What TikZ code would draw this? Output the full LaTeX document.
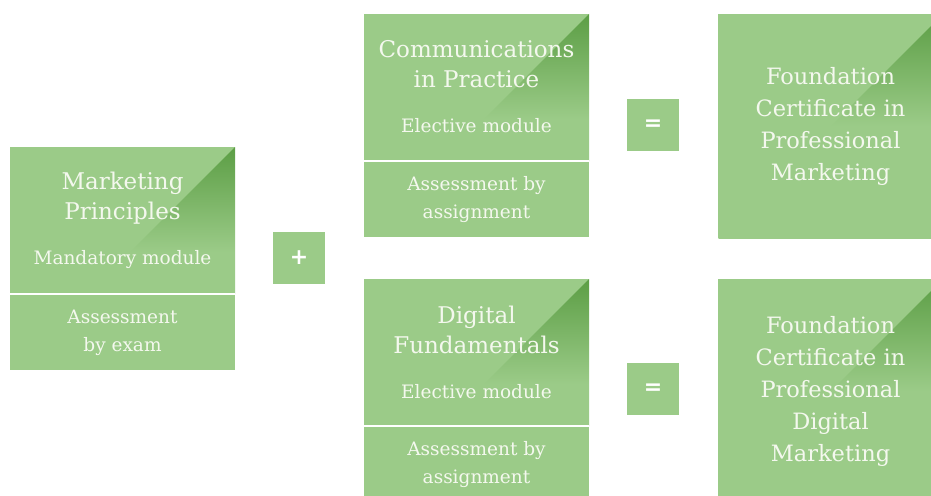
\documentclass[tikz,border=0pt]{standalone}
\usepackage{fontspec}
\setmainfont{DejaVu Serif}
\setsansfont{DejaVu Sans}
\usetikzlibrary{positioning}
\definecolor{leaf}{HTML}{9BCB88}
\definecolor{moss}{HTML}{5C9E45}
\definecolor{chalk}{HTML}{F4F8EE}
% fades from the top right corner, reaching the plain fill about 110px down
\pgfdeclareverticalshading{modfade}{100bp}{color(0bp)=(leaf); color(39bp)=(leaf); color(75bp)=(moss); color(100bp)=(moss)}
\pgfdeclareverticalshading{awardfade}{100bp}{color(0bp)=(leaf); color(50bp)=(leaf); color(75bp)=(moss); color(100bp)=(moss)}
\tikzset{
  tile/.style={fill=leaf,text=chalk,inner sep=0pt,align=center,minimum width=225pt},
  sheen/.style={path picture={
      \clip (path picture bounding box.north east) -- ++(-300pt,-300pt) -- ++(300pt,0pt) -- cycle;
      \shade[shading=#1] (path picture bounding box.south west) rectangle (path picture bounding box.north east);}},
  modhead/.style={tile,sheen=modfade,minimum height=146pt,font=\fontsize{23}{30}\selectfont},
  modfoot/.style={tile,minimum height=75pt,font=\fontsize{18.5}{28}\selectfont},
  award/.style={tile,sheen=awardfade,minimum height=224pt,font=\fontsize{22.5}{32}\selectfont},
  sign/.style={fill=leaf,text=white,minimum size=52pt,inner sep=0pt,font=\fontsize{22}{22}\sffamily\bfseries},
  sepline/.style={draw=white,line width=2pt}
}
\newcommand{\modtype}[1]{\\[15pt]{\fontsize{18.5}{24}\selectfont #1}}

\begin{document}
\begin{tikzpicture}[x=1pt,y=-1pt]
  \path[use as bounding box,clip] (0,0) rectangle (931,495);

  % mandatory module
  \node[modhead] (mp) at (122.5,220) {Marketing\\Principles\modtype{Mandatory module}};
  \node[modfoot, below=2pt of mp] (mpa) {Assessment\\by exam};

  \node[sign] (plus) at (299,258) {+};

  % elective modules
  \node[modhead] (cp) at (476.5,87) {Communications\\in Practice\modtype{Elective module}};
  \node[modfoot, below=2pt of cp] (cpa) {Assessment by\\assignment};

  \node[modhead] (df) at (476.5,352) {Digital\\Fundamentals\modtype{Elective module}};
  \node[modfoot, below=2pt of df] (dfa) {Assessment by\\assignment};

  \foreach \m in {mp,cp,df}
    \path[sepline] ([yshift=-1pt]\m.south west) -- ([yshift=-1pt]\m.south east);

  \node[sign] (eqcp) at (653,125) {=};
  \node[sign] (eqdf) at (653,389) {=};

  % certificates
  \node[award] (fcpm) at (830.5,126) {Foundation\\Certificate in\\Professional\\Marketing};
  \node[award] (fcpdm) at (830.5,391) {Foundation\\Certificate in\\Professional\\Digital\\Marketing};
\end{tikzpicture}
\end{document}
